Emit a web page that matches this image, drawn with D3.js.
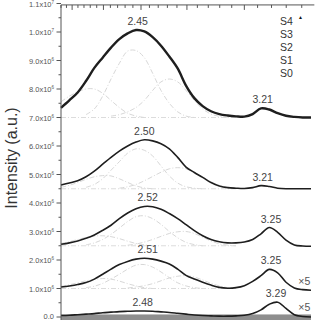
<!DOCTYPE html>
<html>
<head>
<meta charset="utf-8">
<script src="https://cdn.jsdelivr.net/npm/d3@7"></script>
<style>
  body { margin: 0; background: #fff; }
  svg { display: block; font-family: "Liberation Sans", Arial, sans-serif; }
</style>
</head>
<body>
<div id="chart"></div>
<script>
// photon energy grid (eV)
var energy = [2.00, 2.05, 2.10, 2.15, 2.20, 2.25, 2.30, 2.35, 2.40, 2.45, 2.50, 2.55, 2.60, 2.65, 2.70, 2.75,
              2.80, 2.85, 2.90, 2.95, 3.00, 3.05, 3.10, 3.15, 3.20, 3.25, 3.30, 3.35, 3.40, 3.45, 3.50];

// measured spectra, intensity in units of 1e6 (offset stacked)
var s4Values = [7.34, 7.60, 7.88, 8.28, 8.74, 9.10, 9.45, 9.75, 9.95, 10.07, 10.02, 9.82, 9.52, 9.14, 8.72, 8.12,
                7.68, 7.40, 7.22, 7.12, 7.07, 7.04, 7.03, 7.12, 7.32, 7.28, 7.15, 7.06, 7.02, 7.00, 7.00];
var s3Values = [4.63, 4.70, 4.78, 4.92, 5.12, 5.36, 5.60, 5.82, 6.00, 6.14, 6.22, 6.18, 6.08, 5.90, 5.60, 5.26,
                5.07, 4.90, 4.72, 4.60, 4.54, 4.52, 4.51, 4.54, 4.61, 4.58, 4.52, 4.50, 4.50, 4.50, 4.50];
var s2Values = [2.55, 2.60, 2.67, 2.76, 2.88, 3.04, 3.22, 3.45, 3.65, 3.80, 3.88, 3.87, 3.78, 3.63, 3.45, 3.24,
                3.03, 2.85, 2.72, 2.64, 2.60, 2.60, 2.63, 2.72, 2.92, 3.14, 2.97, 2.70, 2.53, 2.49, 2.48];
var s1Values = [1.05, 1.09, 1.14, 1.21, 1.33, 1.50, 1.68, 1.84, 1.95, 2.03, 2.06, 2.03, 1.96, 1.86, 1.68, 1.46,
                1.33, 1.22, 1.12, 1.04, 1.01, 1.03, 1.10, 1.25, 1.45, 1.67, 1.55, 1.22, 1.02, 0.96, 0.94];
var s0Values = [0.05, 0.06, 0.08, 0.10, 0.12, 0.15, 0.17, 0.19, 0.20, 0.21, 0.21, 0.20, 0.18, 0.16, 0.13, 0.10,
                0.07, 0.05, 0.04, 0.03, 0.03, 0.04, 0.06, 0.12, 0.25, 0.45, 0.52, 0.30, 0.08, 0.02, 0.00];

// gaussian fit components (null = not drawn)
var n = null;
var s4FitLeft  = [7.55, 7.75, 7.90, 8.00, 8.00, 7.85, 7.60, 7.35, 7.15, 7.05, 7.00, n, n, n, n, n, n, n, n, n, n, n, n, n, n, n, n, n, n, n, n];
var s4FitMain  = [n, n, n, 7.10, 7.30, 7.75, 8.35, 8.90, 9.33, 9.35, 9.10, 8.55, 7.95, 7.50, 7.20, 7.05, 7.00, n, n, n, n, n, n, n, n, n, n, n, n, n, n];
var s4FitRight = [n, n, n, n, n, n, 7.05, 7.10, 7.20, 7.35, 7.60, 7.95, 8.25, 8.35, 8.25, 7.95, 7.60, 7.30, 7.12, 7.04, 7.00, n, n, n, n, n, n, n, n, n, n];
var s3FitLeft  = [4.55, 4.62, 4.72, 4.83, 4.92, 4.96, 4.95, 4.85, 4.72, 4.60, 4.53, 4.50, n, n, n, n, n, n, n, n, n, n, n, n, n, n, n, n, n, n, n];
var s3FitMain  = [n, n, n, 4.55, 4.65, 4.85, 5.15, 5.45, 5.75, 5.90, 5.85, 5.65, 5.30, 4.95, 4.70, 4.57, 4.52, 4.50, n, n, n, n, n, n, n, n, n, n, n, n, n];
var s3FitRight = [n, n, n, n, n, n, n, 4.52, 4.57, 4.65, 4.78, 4.93, 5.08, 5.20, 5.24, 5.20, 5.08, 4.90, 4.74, 4.62, 4.55, 4.51, n, n, n, n, n, n, n, n, n];
var s2FitLeft  = [2.58, 2.64, 2.72, 2.79, 2.84, 2.85, 2.82, 2.75, 2.66, 2.58, 2.53, 2.50, n, n, n, n, n, n, n, n, n, n, n, n, n, n, n, n, n, n, n];
var s2FitMain  = [n, n, n, 2.53, 2.60, 2.72, 2.90, 3.12, 3.35, 3.52, 3.55, 3.45, 3.25, 3.00, 2.78, 2.62, 2.54, 2.50, n, n, n, n, n, n, n, n, n, n, n, n, n];
var s2FitRight = [n, n, n, n, n, n, n, n, 2.52, 2.56, 2.63, 2.72, 2.83, 2.93, 2.99, 3.00, 2.93, 2.80, 2.67, 2.57, 2.52, 2.50, n, n, n, n, n, n, n, n, n];
var s1FitLeft  = [1.08, 1.13, 1.20, 1.27, 1.32, 1.35, 1.33, 1.26, 1.17, 1.09, 1.03, 1.00, n, n, n, n, n, n, n, n, n, n, n, n, n, n, n, n, n, n, n];
var s1FitMain  = [n, n, n, 1.03, 1.08, 1.18, 1.33, 1.50, 1.68, 1.82, 1.84, 1.75, 1.58, 1.38, 1.20, 1.09, 1.03, 1.00, n, n, n, n, n, n, n, n, n, n, n, n, n];
var s1FitRight = [n, n, n, n, n, n, n, n, 1.02, 1.05, 1.10, 1.17, 1.27, 1.37, 1.43, 1.45, 1.40, 1.30, 1.18, 1.09, 1.03, 1.00, n, n, n, n, n, n, n, n, n];

var fitBaselines = [7.0, 4.5, 2.5, 1.0];

var seriesNames = ["S4", "S3", "S2", "S1", "S0"];
var peakLabels = [
  ["2.45", 2.46, 10.07], ["3.21", 3.21, 7.34],
  ["2.50", 2.50, 6.22], ["3.21", 3.21, 4.61],
  ["2.52", 2.52, 3.88], ["3.25", 3.26, 3.14],
  ["2.51", 2.52, 2.06], ["3.25", 3.26, 1.67],
  ["2.48", 2.49, 0.21], ["3.29", 3.29, 0.52]
];
var scaleNotes = [["\u00d75", 3.46, 0.96], ["\u00d75", 3.46, 0.02]];

var yTickValues = [0, 1, 2, 3, 4, 5, 6, 7, 8, 9, 10, 11];
var topTickNm = d3.range(360, 630, 10);

var width = 320, height = 320;
var svg = d3.select("#chart").append("svg")
    .attr("width", width)
    .attr("height", height);

var x = d3.scaleLinear().domain([2.0, 3.5]).range([61, 311]);
var y = d3.scaleLinear().domain([0, 11]).range([317, 3.5]);

//bottom noisy band
svg.append("rect")
    .attr("x", x(2.0))
    .attr("y", y(0.09))
    .attr("width", x(3.5) - x(2.0))
    .attr("height", y(-0.2) - y(0.09))
    .attr("fill", "#7a7a7a")
    .attr("opacity", 0.85);

//fit components
var fitLine = d3.line()
    .defined(function(d) { return d[1] !== null; })
    .x(function(d) { return x(d[0]); })
    .y(function(d) { return y(d[1]); })
    .curve(d3.curveCatmullRom);

var fits = [s4FitLeft, s4FitMain, s4FitRight, s3FitLeft, s3FitMain, s3FitRight,
            s2FitLeft, s2FitMain, s2FitRight, s1FitLeft, s1FitMain, s1FitRight];
svg.selectAll(".fit")
    .data(fits)
    .enter()
    .append("path")
    .attr("class", "fit")
    .attr("d", function(vals) { return fitLine(energy.map(function(e, i) { return [e, vals[i]]; })); })
    .attr("fill", "none")
    .attr("stroke", "#d2d2d2")
    .attr("stroke-width", 0.9)
    .attr("stroke-dasharray", "5,2,1,2");

svg.selectAll(".base")
    .data(fitBaselines)
    .enter()
    .append("line")
    .attr("class", "base")
    .attr("x1", x(2.0))
    .attr("x2", x(3.05))
    .attr("y1", function(d) { return y(d); })
    .attr("y2", function(d) { return y(d); })
    .attr("stroke", "#d8d8d8")
    .attr("stroke-width", 0.9)
    .attr("stroke-dasharray", "5,2,1,2");

//measured spectra
var line = d3.line()
    .x(function(d) { return x(d[0]); })
    .y(function(d) { return y(d[1]); })
    .curve(d3.curveCatmullRom);

var spectra = [s4Values, s3Values, s2Values, s1Values, s0Values];
svg.selectAll(".spec")
    .data(spectra)
    .enter()
    .append("path")
    .attr("class", "spec")
    .attr("d", function(vals) { return line(energy.map(function(e, i) { return [e, vals[i]]; })); })
    .attr("fill", "none")
    .attr("stroke", "#1e1e1e")
    .attr("stroke-width", function(d, i) { return i == 0 ? 2.4 : 1.6; });

//axes
svg.append("line")
    .attr("x1", x(2.0)).attr("x2", x(2.0))
    .attr("y1", y(10.95)).attr("y2", height)
    .attr("stroke", "#555").attr("stroke-width", 1);
svg.append("line")
    .attr("x1", x(2.0)).attr("x2", x(3.52))
    .attr("y1", y(10.95)).attr("y2", y(10.95))
    .attr("stroke", "#555").attr("stroke-width", 1);

//top axis: wavelength ticks (nm)
svg.selectAll(".ttick")
    .data(topTickNm.filter(function(nm) { return 1240 / nm <= 3.52; }))
    .enter()
    .append("line")
    .attr("class", "ttick")
    .attr("x1", function(d) { return x(1240 / d); })
    .attr("x2", function(d) { return x(1240 / d); })
    .attr("y1", y(10.95))
    .attr("y2", function(d) { return y(10.95) + (d % 50 == 0 ? 5 : 3); })
    .attr("stroke", "#555");

//left axis ticks
var minorY = d3.range(0.5, 11, 1);
svg.selectAll(".ymin")
    .data(minorY)
    .enter()
    .append("line")
    .attr("x1", x(2.0) - 2.5).attr("x2", x(2.0))
    .attr("y1", function(d) { return y(d); })
    .attr("y2", function(d) { return y(d); })
    .attr("stroke", "#555");
svg.selectAll(".ymaj")
    .data(yTickValues)
    .enter()
    .append("line")
    .attr("x1", x(2.0) - 4.5).attr("x2", x(2.0))
    .attr("y1", function(d) { return y(d); })
    .attr("y2", function(d) { return y(d); })
    .attr("stroke", "#555");

var yLab = svg.selectAll(".ylab")
    .data(yTickValues)
    .enter()
    .append("text")
    .attr("class", "ylab")
    .attr("x", x(2.0) - 7)
    .attr("y", function(d) { return d == 0 ? y(d) + 2 : y(d) + 3; })
    .attr("text-anchor", "end")
    .attr("font-size", 7.5)
    .attr("fill", "#555");
yLab.append("tspan")
    .text(function(d) {
        if (d == 0) return "0.0";
        var m = d >= 10 ? d / 10 : d;
        return m.toFixed(1) + "x10";
    });
yLab.append("tspan")
    .attr("dy", -3)
    .attr("font-size", 4.5)
    .text(function(d) { return d == 0 ? "" : (d >= 10 ? "7" : "6"); });

svg.append("text")
    .attr("transform", "translate(17,158) rotate(-90)")
    .attr("text-anchor", "middle")
    .attr("font-size", 16)
    .attr("fill", "#333")
    .text("Intensity (a.u.)");

//legend labels
svg.selectAll(".leg")
    .data(seriesNames)
    .enter()
    .append("text")
    .attr("class", "leg")
    .attr("x", 280)
    .attr("y", function(d, i) { return 25 + i * 13; })
    .attr("font-size", 10.5)
    .attr("fill", "#333")
    .text(function(d) { return d; });
svg.append("text")
    .attr("x", 298).attr("y", 19)
    .attr("font-size", 5)
    .attr("fill", "#111")
    .text("\u25b2");

//peak positions
svg.selectAll(".peak")
    .data(peakLabels)
    .enter()
    .append("text")
    .attr("class", "peak")
    .attr("x", function(d) { return x(d[1]); })
    .attr("y", function(d) { return y(d[2]) - 5; })
    .attr("text-anchor", "middle")
    .attr("font-size", 10.5)
    .attr("fill", "#444")
    .text(function(d) { return d[0]; });

svg.selectAll(".note")
    .data(scaleNotes)
    .enter()
    .append("text")
    .attr("class", "note")
    .attr("x", function(d) { return x(d[1]); })
    .attr("y", function(d) { return y(d[2]) - 5; })
    .attr("text-anchor", "middle")
    .attr("font-size", 10.5)
    .attr("fill", "#555")
    .text(function(d) { return d[0]; });
</script>
</body>
</html>
